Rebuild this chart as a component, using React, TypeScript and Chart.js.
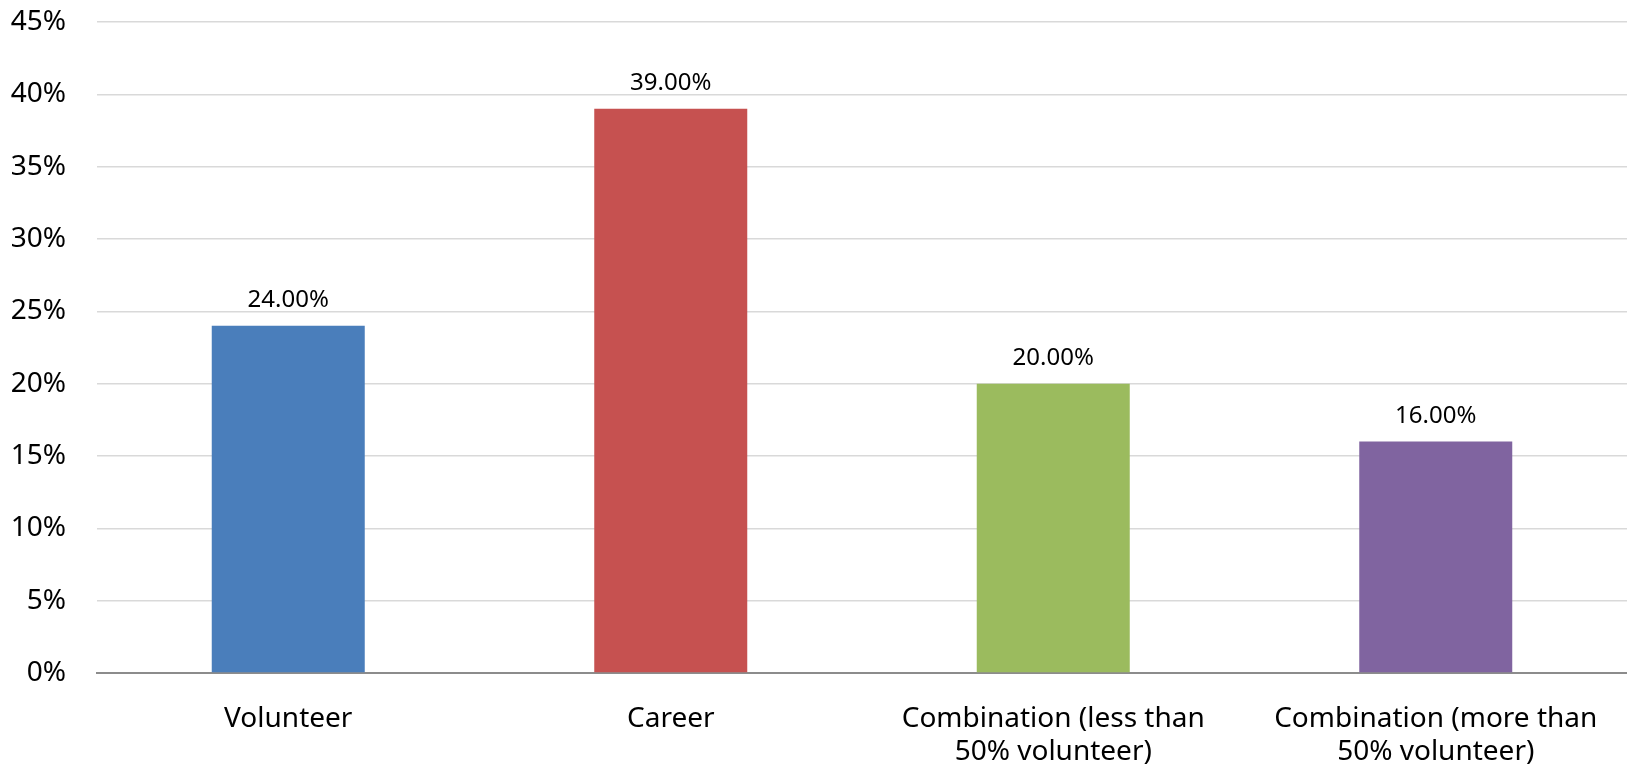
import React, { useEffect, useRef } from "react";
import { Chart, registerables } from "chart.js";

Chart.register(...registerables);

const categories: (string | string[])[] = [
  "Volunteer",
  "Career",
  ["Combination (less than", "50% volunteer)"],
  ["Combination (more than", "50% volunteer)"],
];
const values: number[] = [24, 39, 20, 16];
const barColors: string[] = ["#4A7EBB", "#C65150", "#9BBB5E", "#8064A0"];
const yMax = 45;
const yStep = 5;

const FONT = "'Noto Sans', 'Open Sans', sans-serif";

const dataLabelPlugin = {
  id: "dataLabels",
  afterDatasetsDraw(chart: any) {
    const ctx = chart.ctx;
    const meta = chart.getDatasetMeta(0);
    ctx.save();
    ctx.font = `24px ${FONT}`;
    ctx.fillStyle = "#000";
    ctx.textAlign = "center";
    ctx.textBaseline = "alphabetic";
    meta.data.forEach((bar: any, i: number) => {
      ctx.fillText(values[i].toFixed(2) + "%", bar.x, bar.y - 19);
    });
    ctx.restore();
  },
};

export default function App() {
  const ref = useRef<HTMLCanvasElement | null>(null);
  useEffect(() => {
    document.body.style.margin = "0";
    if (!ref.current) return;
    const chart = new Chart(ref.current, {
      type: "bar",
      data: {
        labels: categories,
        datasets: [
          {
            data: values,
            backgroundColor: barColors,
            borderWidth: 0,
            barPercentage: 0.4,
            categoryPercentage: 1,
          },
        ],
      },
      options: {
        animation: false,
        responsive: false,
        maintainAspectRatio: false,
        layout: { padding: { top: 22, right: 0, left: 0, bottom: 0 } },
        plugins: {
          legend: { display: false },
          tooltip: { enabled: false },
        },
        scales: {
          x: {
            grid: { display: false, drawTicks: false },
            border: { display: true, color: "#8C8C8C", width: 2 },
            ticks: {
              color: "#000",
              font: { family: FONT, size: 28, lineHeight: 1.2 },
              padding: 29,
              maxRotation: 0,
              autoSkip: false,
            },
            afterFit(scale: any) {
              scale.height = 98;
            },
          },
          y: {
            min: 0,
            max: yMax,
            grid: { color: "#D9D9D9", lineWidth: 1.5, drawTicks: false },
            border: { display: false },
            ticks: {
              stepSize: yStep,
              color: "#000",
              font: { family: FONT, size: 28 },
              padding: 31,
              callback: (v: any) => v + "%",
            },
            afterFit(scale: any) {
              scale.width = 97;
              scale.paddingTop = 0;
              scale.paddingBottom = 0;
            },
          },
        },
      },
      plugins: [dataLabelPlugin],
    });
    return () => chart.destroy();
  }, []);
  return (
    <div style={{ position: "absolute", left: 0, top: 0, width: 1627, height: 771 }}>
      <canvas ref={ref} width={1627} height={771} />
    </div>
  );
}
